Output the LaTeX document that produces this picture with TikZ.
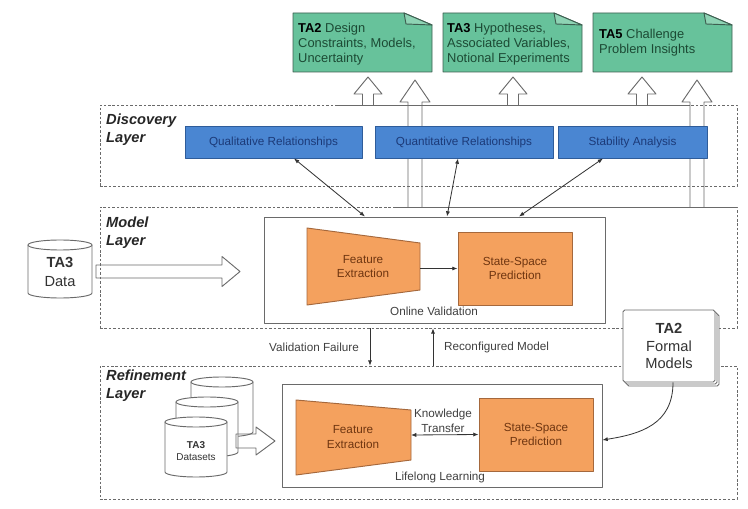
\documentclass[tikz,border=0pt]{standalone}
\usepackage{fontspec}
\setmainfont{Liberation Sans}
\usetikzlibrary{calc,arrows.meta}
\definecolor{linegray}{HTML}{6A6A6A}
\definecolor{discblue}{HTML}{4A86D2}
\definecolor{discedge}{HTML}{2E5C9A}
\definecolor{disctext}{HTML}{1C3A78}
\definecolor{featorange}{HTML}{F4A15E}
\definecolor{featedge}{HTML}{A5683C}
\definecolor{feattext}{HTML}{6E3510}
\definecolor{notegreen}{HTML}{67C29B}
\definecolor{notefold}{HTML}{8ED3B4}
\definecolor{noteedge}{HTML}{3D5E50}
\definecolor{notetext}{HTML}{1C4A34}
\def\notedoc[#1](#2,#3)(#4,#5){\draw[#1] (#2,#3) -- (#4-28,#3) -- (#4,#3+12) -- (#4,#5) -- (#2,#5) -- cycle; \draw[#1,fill=notefold] (#4-28,#3) -- (#4-26,#3+11) -- (#4,#3+12) -- cycle;}
\def\upblock[#1](#2:#3:#4)(#5:#6:#7){\draw[#1] (#2-#5,#3) -- (#2-#5,#4+#7) -- (#2-#6,#4+#7) -- (#2,#4) -- (#2+#6,#4+#7) -- (#2+#5,#4+#7) -- (#2+#5,#3);}
\def\rightblock[#1](#2:#3:#4)(#5:#6:#7){\draw[#1] (#2,#4-#5) -- (#3-#7,#4-#5) -- (#3-#7,#4-#6) -- (#3,#4) -- (#3-#7,#4+#6) -- (#3-#7,#4+#5) -- (#2,#4+#5) -- cycle;}
\def\datacyl[#1](#2,#3)(#4:#5){\filldraw[#1] (#2-#4,#3) -- (#2-#4,#3+#5) arc[start angle=180,end angle=360,x radius=#4*0.03cm,y radius=0.15cm] -- (#2+#4,#3) -- cycle; \filldraw[#1] (#2,#3) ellipse[x radius=#4*0.03cm,y radius=0.15cm];}

\begin{document}
\begin{tikzpicture}[x=0.03cm, y=-0.03cm, line join=round,
	>={Latex[length=4.5pt,width=3.5pt]},
	layer/.style={draw=linegray, dash pattern=on 2.2pt off 1.6pt, line width=0.6pt, minimum width=19.11cm, inner sep=0pt},
	layerlabel/.style={anchor=north west, align=left, inner sep=0pt, text=black!85, font=\fontsize{12.5}{15}\selectfont\bfseries\itshape},
	relbox/.style={draw=discedge, fill=discblue, line width=0.8pt, minimum height=0.96cm, text=disctext, font=\fontsize{10}{12}\selectfont},
	stage/.style={draw=linegray, fill=white, line width=0.8pt, inner sep=0pt},
	feat/.style={draw=featedge, fill=featorange, line width=0.8pt},
	featlabel/.style={text=feattext, align=center, font=\fontsize{10}{12.5}\selectfont},
	notelabel/.style={anchor=west, align=left, text=notetext, inner sep=0pt, font=\fontsize{11}{12.75}\selectfont},
	plain/.style={text=black!75, align=center, font=\fontsize{10}{12.5}\selectfont},
	conn/.style={draw=black!80, line width=0.7pt},
	hollow/.style={draw=linegray, line width=0.8pt},
	store/.style={draw=linegray, fill=white, line width=0.8pt}]
		%%%%% START %%%%%
		\useasboundingbox (0,0) rectangle (748,509);
		
		% layers
		\node[layer, minimum height=2.43cm] (disc) at (418.5,145.5) {};
		\node[layer, minimum height=3.63cm] (model) at (418.5,267.5) {};
		\node[layer, minimum height=3.99cm] (ref) at (418.5,432.5) {};
		\node[layerlabel] (disclabel) at (106,114) {Discovery\\Layer};
		\node[layerlabel] (modellabel) at (106,217) {Model\\Layer};
		\node[layerlabel] (reflabel) at (106,370) {Refinement\\Layer};
		
		\draw[hollow] (338,105) -- (690,105);
		\draw[hollow] (393,207) -- (737,207);
		
		% outputs to the TA documents
		\upblock[hollow](368:105:77)(5.5:14:17)
		\upblock[hollow](513:105:77)(5.5:14:17)
		\upblock[hollow](642:105:77)(5.5:14:17)
		\upblock[hollow](415:207:80)(7:15:22)
		\upblock[hollow](697:207:80)(7:15:22)
		
		\notedoc[draw=noteedge, fill=notegreen, line width=0.8pt](293,13)(432,72)
		\notedoc[draw=noteedge, fill=notegreen, line width=0.8pt](443,13)(582,72)
		\notedoc[draw=noteedge, fill=notegreen, line width=0.8pt](593,13)(732,72)
		\node[notelabel] (ta2note) at (298,44) {\textbf{\color{black}TA2} Design\\Constraints, Models,\\Uncertainty};
		\node[notelabel] (ta3note) at (447,44) {\textbf{\color{black}TA3} Hypotheses,\\Associated Variables,\\Notional Experiments};
		\node[notelabel] (ta5note) at (599,43) {\textbf{\color{black}TA5} Challenge\\Problem Insights};
		
		% discovery layer
		\node[relbox, minimum width=5.31cm] (qualrel) at (273.5,142) {Qualitative Relationships};
		\node[relbox, minimum width=5.34cm] (quantrel) at (464,142) {Quantitative Relationships};
		\node[relbox, minimum width=4.47cm] (stab) at (632.5,142) {Stability Analysis};
		
		% model layer
		\node[stage, minimum width=10.23cm, minimum height=3.18cm] (ov) at (434.5,270) {};
		\filldraw[feat] (307,228) -- (420,243) -- (420,290) -- (307,305) -- cycle;
		\node[featlabel] (fe1) at (363,266.5) {Feature\\Extraction};
		\coordinate (fe1out) at (420,268.5);
		\node[feat, featlabel, minimum width=3.42cm, minimum height=2.19cm] (ss1) at (515,268.5) {State-Space\\Prediction};
		\node[plain] (ovlabel) at (434,311) {Online Validation};
		\draw[conn,->] (fe1out) -- (ss1.west);
		
		\draw[conn,<->] ($(qualrel.south)+(20.5,0)$) -- ($(ov.north)+(-69.5,0)$);
		\draw[conn,<->] ($(quantrel.south)+(-6,0)$) -- ($(ov.north)+(12.5,0)$);
		\draw[conn,<->] ($(stab.south)+(-29.5,0)$) -- ($(ov.north)+(84.5,0)$);
		
		\datacyl[store](60,245)(32:48)
		\node[inner sep=0pt, align=center, text=black!80, font=\fontsize{12.5}{16}\selectfont] (ta3data) at (60,272) {\textbf{TA3}\\Data};
		\rightblock[hollow](96:240:271.5)(6.5:15:18)
		
		% between the layers
		\coordinate (vf) at (370,330);
		\coordinate (rm) at (433,330);
		\draw[conn,->] (vf |- model.south) -- (vf |- ref.north);
		\draw[conn,->] (rm |- ref.north) -- (rm |- model.south);
		\node[plain, anchor=east] (vflabel) at (363,347) {Validation Failure};
		\node[plain, anchor=west] (rmlabel) at (440,347) {Reconfigured Model};
		
		% refinement layer
		\datacyl[store](222,382)(31:50)
		\datacyl[store](207,402)(31:50)
		\datacyl[store](196,422)(31:50)
		\node[inner sep=0pt, align=center, text=black!80, font=\fontsize{8.5}{10.5}\selectfont] (ta3sets) at (196,451) {\textbf{TA3}\\Datasets};
		\rightblock[hollow](236:275:441)(7:14:19)
		
		\node[stage, minimum width=9.6cm, minimum height=3.09cm] (ll) at (442,435.5) {};
		\filldraw[feat] (296,400) -- (411,410) -- (411,460) -- (296,475) -- cycle;
		\node[featlabel] (fe2) at (353,437) {Feature\\Extraction};
		\coordinate (fe2out) at (411,435);
		\node[feat, featlabel, minimum width=3.42cm, minimum height=2.19cm] (ss2) at (536,434.5) {State-Space\\Prediction};
		\node[plain] (lllabel) at (440,477) {Lifelong Learning};
		\draw[conn,<->] (fe2out) -- (ss2.west);
		\node[plain] (ktlabel) at (443,421) {Knowledge\\Transfer};
		
		% formal models
		\draw[store, rounded corners=1.5pt] (627,314) rectangle (719,386);
		\draw[store, rounded corners=1.5pt] (625,312) rectangle (717,384);
		\node[store, rounded corners=1.5pt, minimum width=2.76cm, minimum height=2.16cm, align=center, text=black!80, font=\fontsize{12.5}{15}\selectfont] (tafm) at (669,346) {\textbf{TA2}\\Formal\\Models};
		\draw[conn,->] ([xshift=0.12cm]tafm.south) .. controls +(0,42) and +(38,-6) .. ([yshift=-0.135cm]ll.east);
		
		%%%%% END %%%%%
\end{tikzpicture}
\end{document}
